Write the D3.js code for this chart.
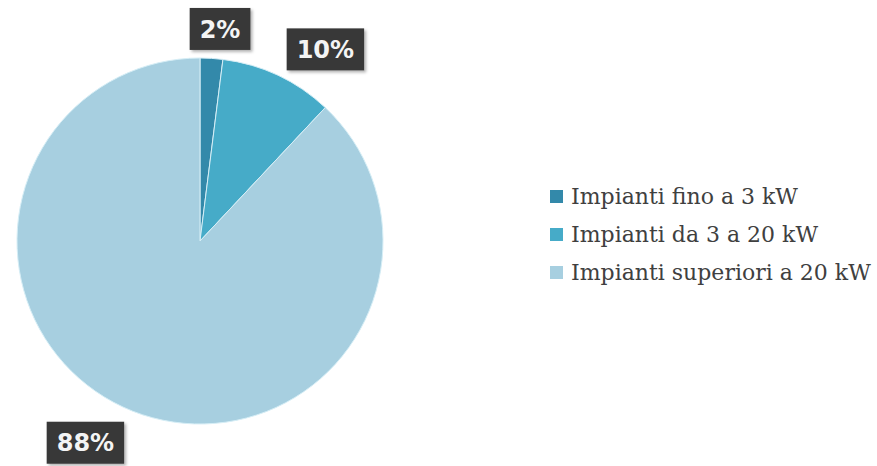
<!DOCTYPE html>
<html>
<head>
<meta charset="utf-8">
<script src="https://cdn.jsdelivr.net/npm/d3@7"></script>
<style>
  body { margin: 0; background: #fff; }
  svg { display: block; }
</style>
</head>
<body>
<div id="chart"></div>
<script>
//Chart size
const WIDTH = 877;
const HEIGHT = 466;

//Data
const categories = ["Impianti fino a 3 kW", "Impianti da 3 a 20 kW", "Impianti superiori a 20 kW"];
const shares = [2, 10, 88];
const labels = ["2%", "10%", "88%"];

//Slice colours
const COLORS = ["#3389aa", "#46abc8", "#a7cfe0"];

//Pie geometry
const CX = 200, CY = 241, R = 183;

//Label placement (Excel "best fit" style): angle shift in degrees and distance from centre
const LABEL_SHIFT = [1.8, 8, 8];
const LABEL_DIST = [213, 229, 232];

//////////////////////////////////////////////////

var svg = d3.select("#chart")
  .append("svg")
  .attr("width", WIDTH)
  .attr("height", HEIGHT);

//drop shadow for label boxes
var defs = svg.append("defs");
defs.append("filter")
  .attr("id", "shadow")
  .attr("x", "-20%").attr("y", "-20%")
  .attr("width", "150%").attr("height", "150%")
  .append("feDropShadow")
  .attr("dx", 2).attr("dy", 2)
  .attr("stdDeviation", 1.5)
  .attr("flood-color", "#000")
  .attr("flood-opacity", 0.3);

var pie = d3.pie().sort(null).value(d => d);
var arcs = pie(shares);

var arc = d3.arc().innerRadius(0).outerRadius(R);

var g = svg.append("g").attr("transform", "translate(" + CX + "," + CY + ")");

g.selectAll("path")
  .data(arcs)
  .enter()
  .append("path")
  .attr("d", arc)
  .attr("fill", (d, i) => COLORS[i])
  .attr("stroke", "#d6eef6")
  .attr("stroke-width", 1);

//percentage labels
var lab = g.selectAll("g.lab")
  .data(arcs)
  .enter()
  .append("g")
  .attr("class", "lab")
  .attr("transform", function(d, i) {
    var a = (d.startAngle + d.endAngle) / 2 + LABEL_SHIFT[i] * Math.PI / 180;
    var x = Math.sin(a) * LABEL_DIST[i];
    var y = -Math.cos(a) * LABEL_DIST[i];
    return "translate(" + x + "," + y + ")";
  });

lab.append("text")
  .attr("text-anchor", "middle")
  .attr("dy", "0.36em")
  .attr("font-family", "DejaVu Sans")
  .attr("font-weight", "bold")
  .attr("font-size", 24)
  .attr("fill", "#f4f4f4")
  .text((d, i) => labels[i]);

//put a box behind each label sized from its text
lab.each(function() {
  var t = d3.select(this).select("text");
  var bb = t.node().getBBox();
  d3.select(this).insert("rect", "text")
    .attr("x", bb.x - 10)
    .attr("y", -21)
    .attr("width", bb.width + 20)
    .attr("height", 42)
    .attr("fill", "#383838")
    .attr("filter", "url(#shadow)");
});

//legend
var legend = svg.append("g").attr("transform", "translate(550,196)");
var rowStep = 38;

var item = legend.selectAll("g")
  .data(categories)
  .enter()
  .append("g")
  .attr("transform", (d, i) => "translate(0," + i * rowStep + ")");

item.append("rect")
  .attr("x", 0)
  .attr("y", -6)
  .attr("width", 13)
  .attr("height", 13)
  .attr("fill", (d, i) => COLORS[i]);

item.append("text")
  .attr("x", 21)
  .attr("dy", "0.35em")
  .attr("font-family", "DejaVu Serif")
  .attr("font-size", 22)
  .attr("fill", "#404040")
  .text(d => d);
</script>
</body>
</html>
